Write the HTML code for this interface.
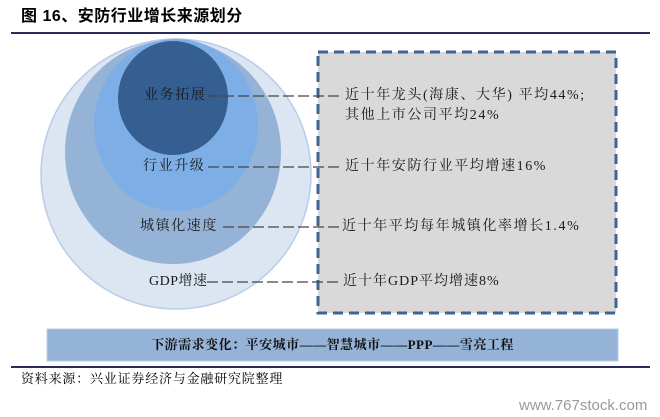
<!DOCTYPE html>
<html><head><meta charset="utf-8"><style>
body{margin:0;width:660px;height:417px;background:#fff;overflow:hidden;position:relative;font-family:"Liberation Serif","Noto Serif CJK SC",serif;}
.t{position:absolute;white-space:nowrap;font-size:14px;letter-spacing:1.6px;color:#1a1a1a;line-height:16px;}
</style></head><body>
<div class="t" style="left:21px;top:9px;font-size:16px;font-weight:bold;letter-spacing:0.5px;color:#000;font-family:'Liberation Sans','Noto Sans CJK SC',sans-serif;">图 16、安防行业增长来源划分</div>
<div style="position:absolute;left:11px;top:32px;width:639px;height:2px;background:#2a2a5a"></div>
<svg width="660" height="417" style="position:absolute;left:0;top:0">
<ellipse cx="176" cy="174" rx="135" ry="135" fill="#dce6f2" stroke="#b8cde8" stroke-width="1.5"/>
<ellipse cx="173" cy="152" rx="108" ry="112" fill="#95b3d7"/>
<ellipse cx="176" cy="125" rx="82" ry="86" fill="#7eaee6"/>
<ellipse cx="173" cy="98" rx="55" ry="57" fill="#355e91"/>
<rect x="318" y="52" width="298" height="261" fill="#d9d9d9" stroke="#3e6496" stroke-width="3" stroke-dasharray="10,6"/>
<g stroke="#444" stroke-width="1.3" stroke-dasharray="11,4">
<line x1="208" y1="96" x2="342" y2="96"/>
<line x1="208" y1="167" x2="342" y2="167"/>
<line x1="223" y1="227" x2="340" y2="227"/>
<line x1="207" y1="282" x2="340" y2="282"/>
</g>
<rect x="47" y="329" width="571" height="32" fill="#95b3d7" stroke="#b8cde8"/>
</svg>
<div class="t" style="left:144px;top:88px;">业务拓展</div>
<div class="t" style="left:143px;top:159px;">行业升级</div>
<div class="t" style="left:140px;top:219px;">城镇化速度</div>
<div class="t" style="left:149px;top:274px;letter-spacing:0.5px">GDP增速</div>
<div class="t" style="left:345px;top:88px;">近十年龙头(海康、大华) 平均44%;</div>
<div class="t" style="left:345px;top:108px;">其他上市公司平均24%</div>
<div class="t" style="left:345px;top:159px;">近十年安防行业平均增速16%</div>
<div class="t" style="left:342px;top:219px;">近十年平均每年城镇化率增长1.4%</div>
<div class="t" style="left:343px;top:274px;letter-spacing:1px">近十年GDP平均增速8%</div>
<div class="t" style="left:47px;width:571px;top:337px;text-align:center;font-size:13px;font-weight:bold;letter-spacing:0.5px;color:#111;">下游需求变化：平安城市——智慧城市——PPP——雪亮工程</div>
<div style="position:absolute;left:11px;top:366px;width:639px;height:2px;background:#2a2a5a"></div>
<div class="t" style="left:21px;top:371px;font-size:13px;letter-spacing:0.8px;color:#000;">资料来源：兴业证券经济与金融研究院整理</div>
<div class="t" style="left:519px;top:398px;font-size:15px;letter-spacing:0;color:#999;font-family:'Liberation Sans',sans-serif;">www.767stock.com</div>
</body></html>
